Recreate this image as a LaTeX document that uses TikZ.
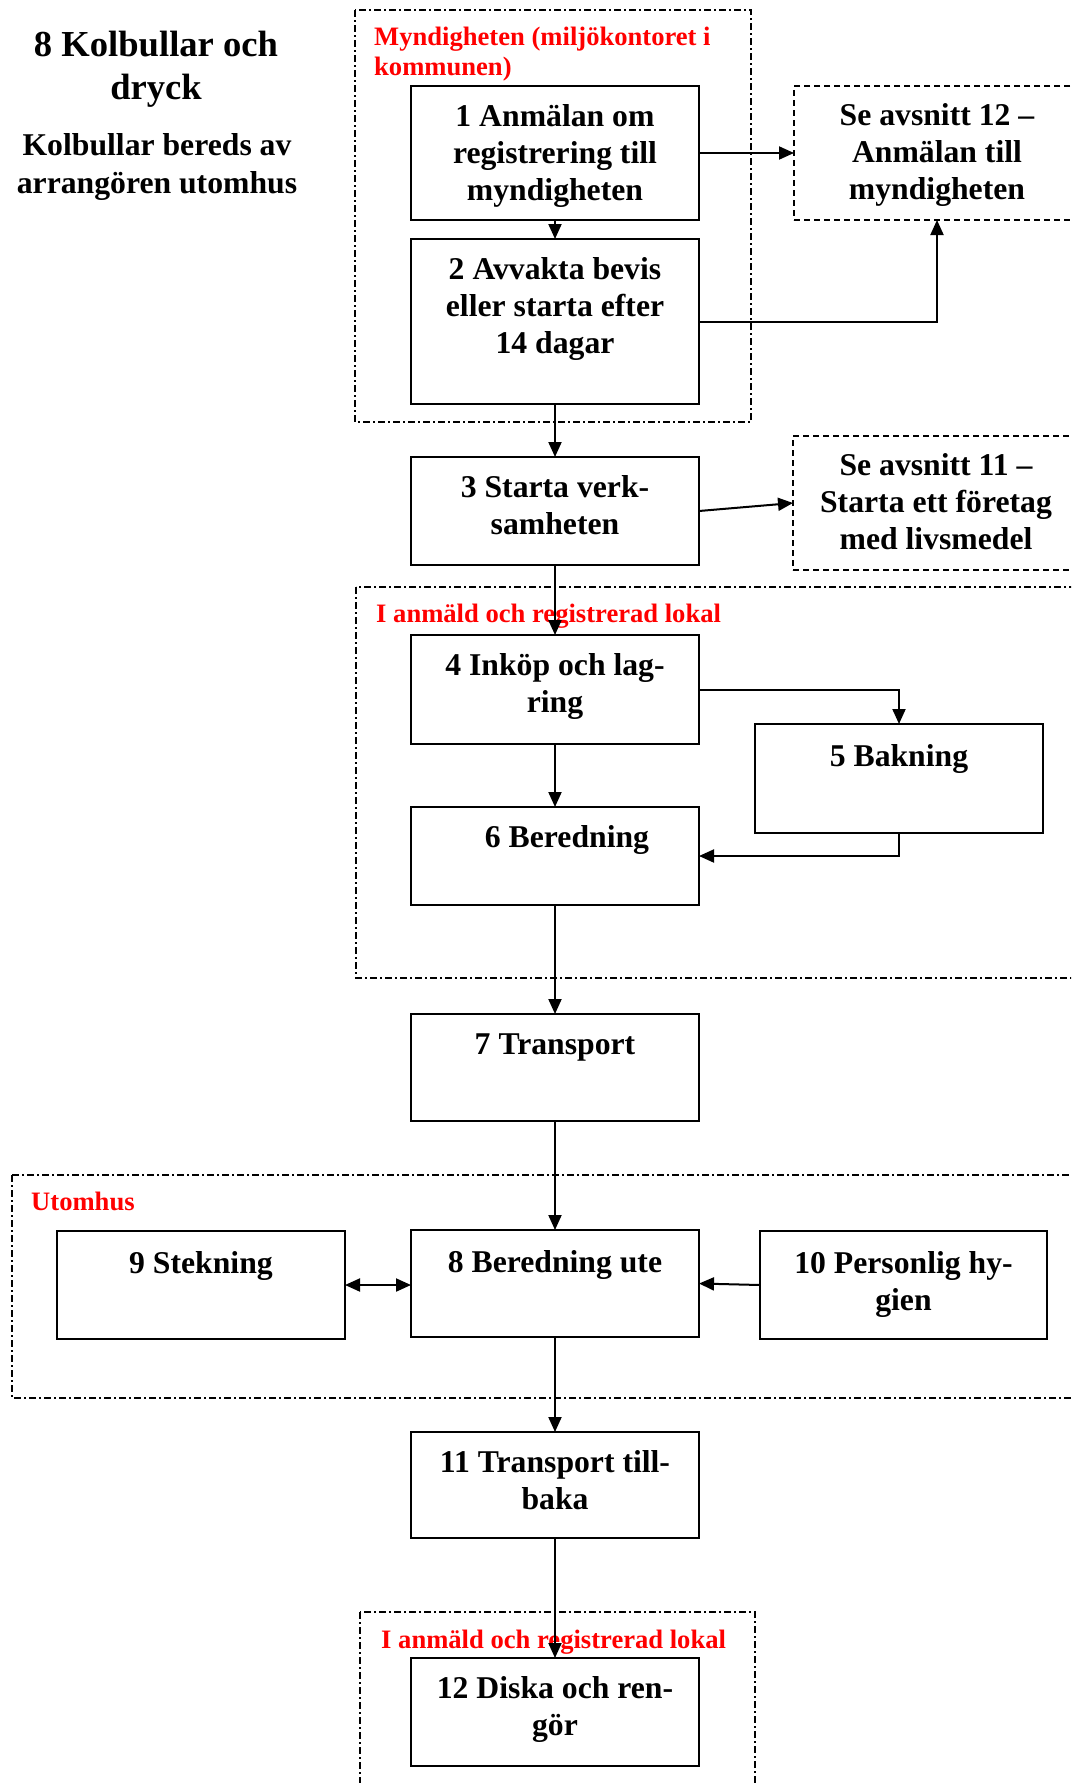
\documentclass[tikz,border=0pt]{standalone}
\usepackage{fontspec}
\setmainfont{Liberation Serif}
\usetikzlibrary{arrows.meta}
\begin{document}
\begin{tikzpicture}[x=1pt,y=-1pt,
  stepbox/.style={draw, line width=2pt, minimum width=288pt, inner sep=0pt, outer sep=0pt, anchor=north west},
  refbox/.style={draw, line width=2pt, dash pattern=on 6pt off 4pt, minimum width=286pt, inner sep=0pt, outer sep=0pt, anchor=north west},
  region/.style={draw, line width=1.6pt, dash pattern=on 7pt off 3pt on 2pt off 3pt},
  boxtext/.style={anchor=north, align=center, inner sep=0pt, font=\fontsize{31.7}{37}\selectfont\bfseries},
  areatext/.style={align=left, inner sep=0pt, text=red, font=\fontsize{26.6}{30}\selectfont\bfseries},
  tip/.style={Triangle[length=15pt,width=13pt]},
  conn/.style={line width=2pt, -{Triangle[length=15pt,width=13pt]}},
  both/.style={line width=2pt, {Triangle[length=15pt,width=13pt]}-{Triangle[length=15pt,width=13pt]}},
]
\useasboundingbox (0,0) rectangle (1071,1783);
\clip (0,0) rectangle (1071,1783);

% heading
\node[anchor=north, align=center, inner sep=0pt, font=\fontsize{36.6}{43}\selectfont\bfseries] (title) at (156,26) {\strut 8 Kolbullar och\\dryck};
\node[anchor=north, align=center, inner sep=0pt, font=\fontsize{31.7}{38}\selectfont\bfseries] (subtitle) at (157,128.4) {\strut Kolbullar bereds av\\arrangören utomhus};

% grouping regions
\draw[region] (355,10) rectangle (751,422);
\draw[region] (356,587) rectangle (1090,978);
\draw[region] (12,1175) rectangle (1090,1398);
\draw[region] (360,1612) rectangle (755,1800);

\node[areatext, anchor=north west] (areaA) at (374,24) {\strut Myndigheten (miljökontoret i\\kommunen)};
\node[areatext, anchor=base west] (areaB) at (376,622) {I anmäld och registrerad lokal};
\node[areatext, anchor=base west] (areaC) at (31,1210) {Utomhus};
\node[areatext, anchor=base west] (areaD) at (381,1648) {I anmäld och registrerad lokal};

% process steps
\node[stepbox, minimum height=134pt] (b1) at (411,86) {};
\node[stepbox, minimum height=165pt] (b2) at (411,239) {};
\node[stepbox, minimum height=108pt] (b3) at (411,457) {};
\node[stepbox, minimum height=109pt] (b4) at (411,635) {};
\node[stepbox, minimum height=109pt] (b5) at (755,724) {};
\node[stepbox, minimum height=98pt]  (b6) at (411,807) {};
\node[stepbox, minimum height=107pt] (b7) at (411,1014) {};
\node[stepbox, minimum height=107pt] (b8) at (411,1230) {};
\node[stepbox, minimum height=108pt] (b9) at (57,1231) {};
\node[stepbox, minimum height=108pt, minimum width=287pt] (b10) at (760,1231) {};
\node[stepbox, minimum height=106pt] (b11) at (411,1432) {};
\node[stepbox, minimum height=108pt] (b12) at (411,1658) {};

% references to other sections
\node[refbox, minimum height=134pt] (se12) at (794,86) {};
\node[refbox, minimum height=134pt] (se11) at (793,436) {};

% step labels
\node[boxtext] (t1) at ([yshift=-14pt]b1.north) {\strut 1 Anmälan om\\registrering till\\myndigheten};
\node[boxtext] (t2) at ([yshift=-14pt]b2.north) {\strut 2 Avvakta bevis\\eller starta efter\\14 dagar};
\node[boxtext] (t3) at ([yshift=-14pt]b3.north) {\strut 3 Starta verk-\\samheten};
\node[boxtext] (t4) at ([yshift=-14pt]b4.north) {\strut 4 Inköp och lag-\\ring};
\node[boxtext] (t5) at ([yshift=-16pt]b5.north) {\strut 5 Bakning};
\node[boxtext] (t6) at ([xshift=12pt,yshift=-14pt]b6.north) {\strut 6 Beredning};
\node[boxtext] (t7) at ([yshift=-14pt]b7.north) {\strut 7 Transport};
\node[boxtext] (t8) at ([yshift=-16pt]b8.north) {\strut 8 Beredning ute};
\node[boxtext] (t9) at ([yshift=-16pt]b9.north) {\strut 9 Stekning};
\node[boxtext] (t10) at ([yshift=-16pt]b10.north) {\strut 10 Personlig hy-\\gien};
\node[boxtext] (t11) at ([yshift=-14pt]b11.north) {\strut 11 Transport till-\\baka};
\node[boxtext] (t12) at ([yshift=-14pt]b12.north) {\strut 12 Diska och ren-\\gör};
\node[boxtext] (s12) at ([yshift=-13pt]se12.north) {\strut Se avsnitt 12 –\\Anmälan till\\myndigheten};
\node[boxtext] (s11) at ([yshift=-13pt]se11.north) {\strut Se avsnitt 11 –\\Starta ett företag\\med livsmedel};

% connectors
\draw[conn] (b1.east) -- (se12.west);
\draw[conn] (b1.south) -- (b2.north);
\draw[conn] (b2.east) -| (se12.south);
\draw[conn] (b2.south) -- (b3.north);
\draw[conn] (b3.east) -- (se11.west);
\draw[conn] (b3.south) -- (b4.north);
\draw[conn] (b4.east) -| (b5.north);
\draw[conn] (b4.south) -- (b6.north);
\draw[conn] (b5.south) |- (b6.east);
\draw[conn] (b6.south) -- (b7.north);
\draw[conn] (b7.south) -- (b8.north);
\draw[both] (b9.east) -- (b9.east -| b8.west);
\draw[conn] (b10.west) -- (b8.east);
\draw[conn] (b8.south) -- (b11.north);
\draw[conn] (b11.south) -- (b12.north);
\end{tikzpicture}
\end{document}
